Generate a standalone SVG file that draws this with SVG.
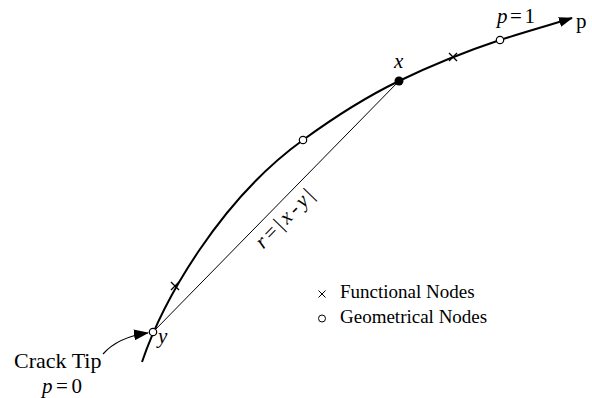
<svg xmlns="http://www.w3.org/2000/svg" width="592" height="398" viewBox="0 0 592 398">
<style>
.t{font-family:"Liberation Serif","DejaVu Serif",serif;fill:#000000}
.it{font-style:italic}
.curve{fill:none;stroke:#000;stroke-width:2}
.chord{fill:none;stroke:#000;stroke-width:1}
.open{fill:#fff;stroke:#000;stroke-width:1.2}
.cross{stroke:#000;stroke-width:1.3;fill:none}
</style>
<defs>
<marker id="ah" markerUnits="userSpaceOnUse" markerWidth="14" markerHeight="10" refX="13" refY="5" orient="auto">
<path d="M0,0 L14,5 L0,10 z" fill="#000"/>
</marker>
<marker id="ah2" markerUnits="userSpaceOnUse" markerWidth="15" markerHeight="11" refX="14" refY="5.5" orient="auto">
<path d="M0,0 L15,5.5 L0,11 z" fill="#000"/>
</marker>
</defs>
<g id="connectors">
<path class="curve" d="M142,362 C163,300 220,200 303,140 C340,113 370,95 399,81 C430,66 470,50 500,40 C525,32 550,25 572,18" marker-end="url(#ah)"/>
<line class="chord" x1="153" y1="332" x2="399" y2="81"/>
<path d="M103,354 Q118,337 148,333" fill="none" stroke="#000" stroke-width="1.2" marker-end="url(#ah2)"/>
</g>
<g id="node-y">
<circle class="open" cx="153" cy="332" r="3.7"/>
<text class="t it" x="158" y="343" font-size="21">y</text>
</g>
<g id="node-x">
<circle cx="399" cy="81" r="4.5" fill="#000"/>
<text class="t it" x="394" y="68" font-size="21">x</text>
</g>
<g id="geo-mid">
<circle class="open" cx="303" cy="140" r="3.7"/>
</g>
<g id="geo-end">
<circle class="open" cx="500" cy="40" r="3.7"/>
<text class="t" x="497" y="23" font-size="21" textLength="38" lengthAdjust="spacing"><tspan class="it">p</tspan>=1</text>
</g>
<g id="func-1">
<path class="cross" d="M171,282 L179,290 M171,290 L179,282"/>
</g>
<g id="func-2">
<path class="cross" d="M449,53 L457,61 M449,61 L457,53"/>
</g>
<g id="p-axis">
<text class="t" x="576" y="28" font-size="21">p</text>
</g>
<g id="chord-label">
<text class="t" transform="translate(274.2,208.4) rotate(-45.6)" x="0" y="21" font-size="21" text-anchor="middle" textLength="74" lengthAdjust="spacing"><tspan class="it">r</tspan>=|<tspan class="it">x</tspan>-<tspan class="it">y</tspan>|</text>
</g>
<g id="crack-tip">
<text class="t" x="14" y="368" font-size="22">Crack Tip</text>
<text class="t" x="42" y="393" font-size="21" textLength="40" lengthAdjust="spacing"><tspan class="it">p</tspan>=0</text>
</g>
<g id="legend">
<path d="M318.5,290.5 L325.5,297.5 M318.5,297.5 L325.5,290.5" stroke="#000" stroke-width="1"/>
<text class="t" x="340" y="298" font-size="19">Functional Nodes</text>
<circle cx="322" cy="318.5" r="3.5" fill="none" stroke="#000" stroke-width="1"/>
<text class="t" x="340" y="323" font-size="19">Geometrical Nodes</text>
</g>
</svg>
